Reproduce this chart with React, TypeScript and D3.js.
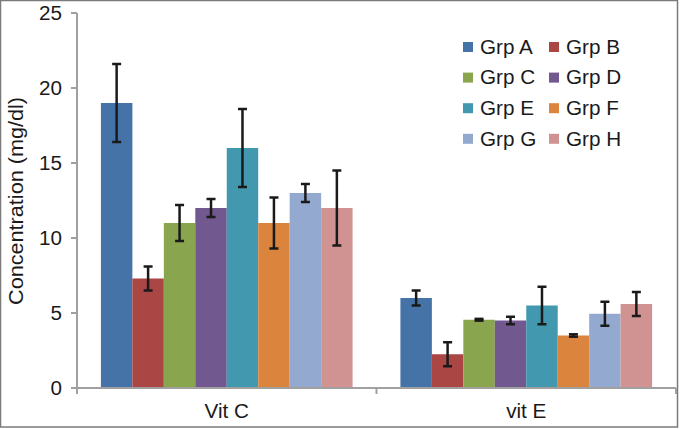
import React from "react";
import * as d3 from "d3";

const categories = ["Vit C", "vit E"];
const groups = ["Grp A", "Grp B", "Grp C", "Grp D", "Grp E", "Grp F", "Grp G", "Grp H"];
const colors = ["#4572A7", "#AA4643", "#89A54E", "#71588F", "#4198AF", "#DB843D", "#93A9CF", "#D19392"];
const vitC = [19, 7.3, 11, 12, 16, 11, 13, 12];
const vitCErr = [2.6, 0.8, 1.2, 0.6, 2.6, 1.7, 0.6, 2.5];
const vitE = [6, 2.25, 4.55, 4.5, 5.5, 3.5, 4.95, 5.6];
const vitEErr = [0.5, 0.8, 0.06, 0.25, 1.25, 0.08, 0.8, 0.8];
const yTicks = [0, 5, 10, 15, 20, 25];

const values = [vitC, vitE];
const errors = [vitCErr, vitEErr];

export default function App() {
  const W = 680, H = 429;
  const x0 = 77, x1 = 676, yTop = 13, yBot = 388;
  const font = "'Liberation Sans', Arial, sans-serif";
  const ink = "#1a1a1a";

  const y = d3.scaleLinear().domain([0, 25]).range([yBot, yTop]);
  const xc = d3.scaleBand().domain(categories).range([x0, x1]).paddingInner(0).paddingOuter(0);
  const xg = d3.scaleBand().domain(groups).range([0, xc.bandwidth()]).paddingOuter(0.76).paddingInner(0);

  const axisColor = "#A0A0A0";

  const HText = ({ x, yy, anchor, children }: any) => (
    <g transform={`translate(${x},${yy}) scale(1.06,1)`}>
      <text x={0} y={0} dy="0.35em" textAnchor={anchor} fontFamily={font} fontSize={19.5} fill={ink}>
        {children}
      </text>
    </g>
  );

  return (
    <div style={{ position: "absolute", left: 0, top: 0 }}>
      <svg width={W} height={H} style={{ display: "block", background: "#fff" }}>
        <rect x={0.5} y={0.5} width={677} height={426.5} fill="#fff" stroke="#7a7a7a" strokeWidth={1.5} />
        {/* bars */}
        {categories.map((c, ci) => (
          <g key={c} transform={`translate(${xc(c)},0)`}>
            {groups.map((g, gi) => {
              const v = values[ci][gi];
              const e = errors[ci][gi];
              const bx = xg(g)!;
              const bw = xg.bandwidth();
              const cx = bx + bw / 2;
              return (
                <g key={g}>
                  <rect x={bx} y={y(v)} width={bw} height={y(0) - y(v)} fill={colors[gi]} />
                  <line x1={cx} x2={cx} y1={y(v + e)} y2={y(v - e)} stroke={ink} strokeWidth={2.5} />
                  <line x1={cx - 4.5} x2={cx + 4.5} y1={y(v + e)} y2={y(v + e)} stroke={ink} strokeWidth={2.5} />
                  <line x1={cx - 4.5} x2={cx + 4.5} y1={y(v - e)} y2={y(v - e)} stroke={ink} strokeWidth={2.5} />
                </g>
              );
            })}
          </g>
        ))}
        {/* y axis */}
        <line x1={x0} x2={x0} y1={yTop} y2={yBot + 6} stroke={axisColor} strokeWidth={2} />
        {yTicks.map((t) => (
          <g key={t}>
            <line x1={x0 - 6} x2={x0} y1={y(t)} y2={y(t)} stroke={axisColor} strokeWidth={2} />
            <HText x={62} yy={y(t)} anchor="end">{t}</HText>
          </g>
        ))}
        {/* x axis */}
        <line x1={x0} x2={x1} y1={yBot} y2={yBot} stroke={axisColor} strokeWidth={2} />
        {[x0, ...categories.map((c) => xc(c)! + xc.bandwidth())].map((tx, i) => (
          <line key={i} x1={tx} x2={tx} y1={yBot} y2={yBot + 6} stroke={axisColor} strokeWidth={2} />
        ))}
        {categories.map((c) => (
          <HText key={c} x={xc(c)! + xc.bandwidth() / 2} yy={411} anchor="middle">{c}</HText>
        ))}
        {/* y title */}
        <text transform={`translate(16,${(97 + 305) / 2}) rotate(-90)`} textAnchor="middle" dy="0.35em" fontFamily={font} fontSize={19.5} textLength={208} lengthAdjust="spacingAndGlyphs" fill={ink}>
          Concentration (mg/dl)
        </text>
        {/* legend */}
        {groups.map((g, gi) => {
          const col = gi % 2;
          const row = Math.floor(gi / 2);
          const lx = col === 0 ? 463 : 549;
          const ly = 47 + row * 30.6;
          return (
            <g key={g}>
              <rect x={lx} y={ly - 5} width={10} height={10} fill={colors[gi]} />
              <HText x={lx + 17} yy={ly} anchor="start">{g}</HText>
            </g>
          );
        })}
      </svg>
    </div>
  );
}
